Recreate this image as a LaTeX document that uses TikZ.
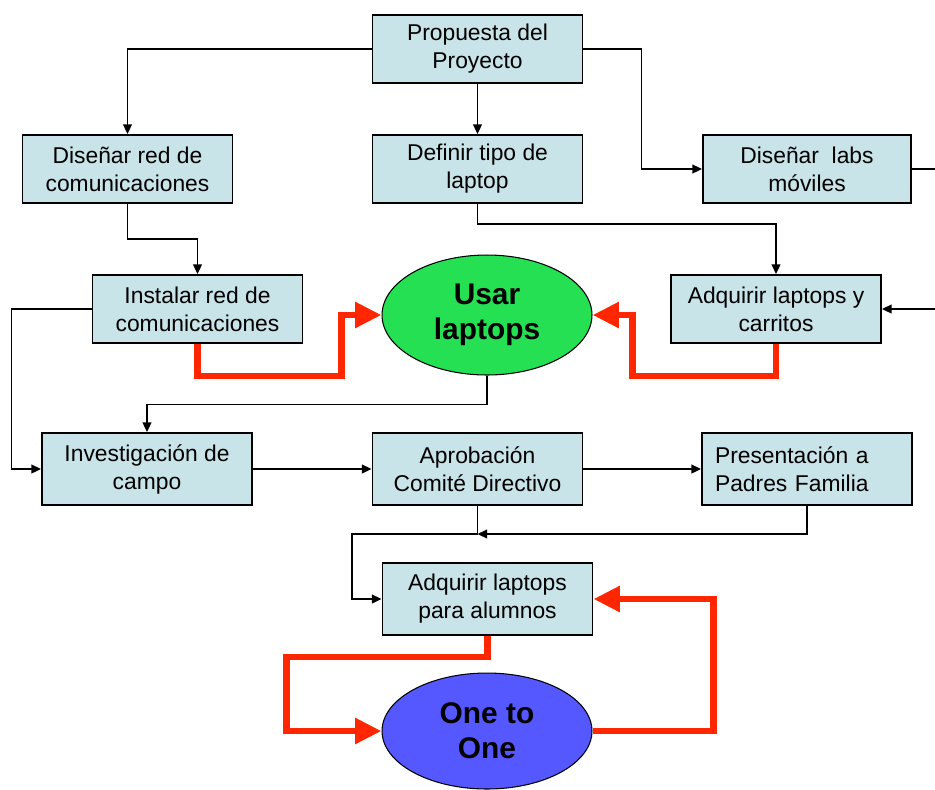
\documentclass[tikz,border=0pt]{standalone}
\usepackage{fontspec}
\setmainfont{Liberation Sans}
\definecolor{boxcyan}{RGB}{200, 228, 232}
\definecolor{usargreen}{RGB}{38, 224, 84}
\definecolor{oneblue}{RGB}{85, 88, 255}
\definecolor{loopred}{RGB}{255, 38, 0}
\usetikzlibrary{shapes.geometric, arrows.meta, calc}
\tikzset{
    taskbox/.style={rectangle, draw=black, fill=boxcyan, line width=1.1pt,
                    minimum width=4.2cm, minimum height=1.36cm, align=center, inner sep=2pt,
                    font=\fontsize{13}{15.9}\selectfont},
    goalnode/.style={ellipse, draw=black, line width=0.6pt, minimum width=4.2cm,
                     minimum height=2.4cm, align=center, inner sep=0pt,
                     font=\fontsize{17}{20}\selectfont\bfseries},
    conn/.style={-{Triangle[length=5.5pt, width=5pt]}, line width=0.9pt, black},
    redarrow/.style={-{Triangle[length=15pt, width=14pt]}, line width=3.8pt, loopred},
}
\begin{document}
\begin{tikzpicture}[x=0.02cm, y=-0.02cm]
            \useasboundingbox (0,0) rectangle (935,789);
            \clip (0,0) rectangle (935,789);
            \node[taskbox] (prop) at (477.5,49) {Propuesta del\\Proyecto};
            \node[taskbox] (disred) at (127.5,169) {Diseñar red de\\comunicaciones};
            \node[taskbox] (deftipo) at (477.5,169) {Definir tipo de\\laptop};
            \node[taskbox, minimum width=4.16cm] (labs) at (807,169) {Diseñar\ \ labs\\móviles};
            \node[taskbox] (instalar) at (197.5,309) {Instalar red de\\comunicaciones};
            \node[goalnode, fill=usargreen] (usar) at (487,315) {Usar\\laptops};
            \node[taskbox] (carritos) at (776,309) {Adquirir laptops y\\carritos};
            \node[taskbox, minimum height=1.44cm] (invest) at (147,469) {Investigación de\\campo};
            \node[taskbox, minimum height=1.44cm] (aprob) at (477.5,469) {Aprobación\\Comité Directivo};
            \node[taskbox, minimum height=1.44cm, text width=3.68cm, inner xsep=0.24cm, align=left] (present) at (807,469) {Presentación a\\Padres Familia};
            \node[taskbox, minimum height=1.44cm] (alumnos) at (487.5,599) {Adquirir laptops\\para alumnos};
            \node[goalnode, fill=oneblue, minimum height=2.32cm] (one) at (487,731) {One to\\One};
            \coordinate (jn) at (352,534);
            % black connectors
            \draw[conn] (prop.west) -| (disred.north);
            \draw[conn] (prop.south) -- (deftipo.north);
            \draw[conn] (prop.east) -- ++(58,0) |- (labs.west);
            \draw[conn] (disred.south) -- ++(0,35) -| (instalar.north);
            \draw[conn] (deftipo.south) -- ++(0,20) -| (carritos.north);
            \draw[conn] (labs.east) -- ++(60,0) |- (carritos.east);
            \draw[conn] (instalar.west) -- ++(-80,0) |- (invest.west);
            \draw[conn] (usar.south) -- ++(0,29) -| (invest.north);
            \draw[conn] (invest) -- (aprob);
            \draw[conn] (aprob) -- (present);
            \draw[conn] (aprob.south) |- (jn) |- (alumnos.west);
            \draw[conn] (present.south) |- (aprob.south |- jn);
            % red loops
            \draw[redarrow] (instalar.south) -- ++(0,32) -| ($(usar.west)+(-40,0)$) -- (usar.west);
            \draw[redarrow] (carritos.south) -- ++(0,32) -| ($(usar.east)+(40,0)$) -- (usar.east);
            \draw[redarrow] (alumnos.south) -- ++(0,21) -| ($(one.west)+(-95,0)$) -- (one.west);
            \draw[redarrow] (one.east) -- ++(121,0) |- (alumnos.east);
        \end{tikzpicture}
\end{document}
